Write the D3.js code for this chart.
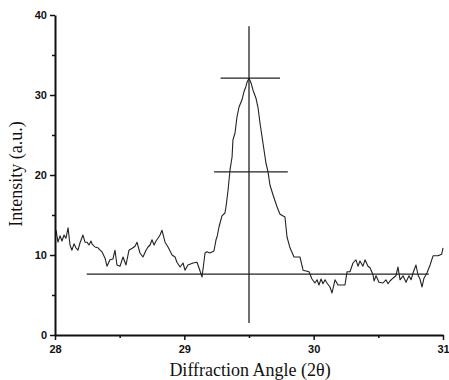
<!DOCTYPE html>
<html>
<head>
<meta charset="utf-8">
<script src="https://cdn.jsdelivr.net/npm/d3@7"></script>
<style>
  body { margin: 0; background: #fff; }
  .tick text { font-family: "Liberation Sans", Arial, sans-serif; font-weight: bold; font-size: 11px; fill: #111; }
  .axis-title { font-family: "Liberation Serif", "Times New Roman", serif; font-size: 18px; fill: #111; }
</style>
</head>
<body>
<div id="wrapper"></div>
<script>
// scan of the diffraction pattern
const angle = [
  28.008, 28.023, 28.039, 28.054, 28.070, 28.085, 28.101, 28.116, 28.131, 28.147,
  28.162, 28.178, 28.193, 28.216, 28.232, 28.247, 28.263, 28.278, 28.286, 28.309,
  28.332, 28.363, 28.387, 28.402, 28.425, 28.448, 28.464, 28.479, 28.503, 28.526,
  28.549, 28.572, 28.603, 28.619, 28.634, 28.657, 28.680, 28.704, 28.719, 28.735,
  28.750, 28.766, 28.781, 28.796, 28.812, 28.827, 28.851, 28.874, 28.905, 28.928,
  28.943, 28.967, 28.990, 29.005, 29.028, 29.067, 29.098, 29.113, 29.137, 29.160,
  29.175, 29.198, 29.229, 29.245, 29.253, 29.268, 29.276, 29.291, 29.314, 29.322,
  29.338, 29.353, 29.369, 29.376, 29.392, 29.407, 29.423, 29.446, 29.461, 29.477,
  29.485, 29.500, 29.516, 29.531, 29.554, 29.570, 29.585, 29.608, 29.631, 29.647,
  29.662, 29.686, 29.717, 29.740, 29.778, 29.794, 29.817, 29.848, 29.894, 29.918,
  29.964, 29.987, 30.010, 30.026, 30.041, 30.057, 30.072, 30.088, 30.103, 30.126,
  30.142, 30.165, 30.188, 30.242, 30.258, 30.281, 30.304, 30.327, 30.343, 30.358,
  30.381, 30.397, 30.420, 30.436, 30.459, 30.467, 30.482, 30.505, 30.536, 30.559,
  30.575, 30.590, 30.613, 30.636, 30.652, 30.668, 30.691, 30.714, 30.737, 30.753,
  30.768, 30.791, 30.807, 30.822, 30.838, 30.853, 30.876, 30.900, 30.923, 30.961,
  30.990, 31.000
]
const intensity = [
  13.1, 11.6, 12.4, 11.75, 12.5, 12.1, 13.4, 11.25, 10.6, 11.4,
  10.9, 10.6, 11.5, 12.5, 11.6, 11.6, 11.25, 11.75, 11.4, 11.0,
  10.9, 10.4, 9.6, 8.6, 9.4, 9.5, 10.6, 8.75, 8.6, 9.75,
  8.75, 10.6, 10.9, 11.1, 11.6, 10.25, 9.75, 10.6, 11.0, 11.25,
  11.9, 11.25, 11.75, 12.1, 12.5, 13.1, 11.6, 11.0, 10.0, 9.75,
  9.1, 8.5, 9.0, 8.1, 8.75, 9.0, 9.1, 8.4, 7.25, 10.25,
  10.4, 10.25, 10.5, 11.9, 12.25, 13.5, 14.0, 14.9, 15.25, 16.0,
  18.1, 20.6, 22.25, 24.4, 25.25, 27.25, 28.5, 29.4, 30.4, 31.1,
  31.6, 32.1, 31.5, 30.6, 29.6, 28.4, 26.5, 24.0, 21.5, 20.4,
  18.75, 17.5, 16.0, 15.1, 14.75, 12.25, 10.9, 9.75, 9.75, 8.1,
  7.9, 7.0, 6.5, 6.9, 6.25, 7.0, 6.4, 6.9, 6.5, 6.0,
  5.25, 6.9, 6.25, 6.25, 7.9, 7.9, 9.0, 9.4, 8.6, 9.25,
  8.6, 9.4, 8.6, 8.4, 7.5, 6.75, 7.4, 6.6, 6.5, 6.9,
  6.4, 6.75, 7.1, 7.4, 8.5, 6.9, 7.4, 6.6, 7.4, 6.9,
  7.75, 8.75, 7.5, 7.0, 6.0, 7.1, 7.75, 8.75, 9.9, 9.9,
  10.1, 10.9
]

// construction lines drawn on the scan: [x1, y1, x2, y2]
const guideLines = [
  [28.245, 7.6, 30.89, 7.6],     // background
  [29.28, 32.1, 29.74, 32.1],    // peak top
  [29.23, 20.4, 29.80, 20.4],    // half maximum
  [29.5, 1.5, 29.5, 38.6]        // peak position
]

const xTicks = [28, 29, 30, 31]
const xMinorTicks = [28.5, 29.5, 30.5]
const yTicks = [0, 10, 20, 30, 40]
const yMinorTicks = [5, 15, 25, 35]

const dataset = angle.map((a, i) => ({angle: a, intensity: intensity[i]}))

const dimensions = {
  width: 449,
  height: 380,
  margin: {top: 15, right: 6, bottom: 45, left: 55}
}
dimensions.boundedWidth = dimensions.width - dimensions.margin.left - dimensions.margin.right
dimensions.boundedHeight = dimensions.height - dimensions.margin.top - dimensions.margin.bottom

const wrapper = d3.select("#wrapper")
  .append("svg")
  .attr("width", dimensions.width)
  .attr("height", dimensions.height)

const bounds = wrapper.append("g")
  .attr("transform", `translate(${dimensions.margin.left},${dimensions.margin.top})`)

const xScale = d3.scaleLinear()
  .domain([28, 31])
  .range([0, 388])

const yScale = d3.scaleLinear()
  .domain([0, 40])
  .range([dimensions.boundedHeight, 0])

// guide lines
bounds.selectAll(".guide")
  .data(guideLines)
  .enter()
  .append("line")
  .attr("class", "guide")
  .attr("x1", d => xScale(d[0]))
  .attr("y1", d => yScale(d[1]))
  .attr("x2", d => xScale(d[2]))
  .attr("y2", d => yScale(d[3]))
  .attr("stroke", "#222")
  .attr("stroke-width", 1.3)

// pattern
const lineGenerator = d3.line()
  .x(d => xScale(d.angle))
  .y(d => yScale(d.intensity))

bounds.append("path")
  .datum(dataset)
  .attr("d", lineGenerator)
  .attr("fill", "none")
  .attr("stroke", "#222")
  .attr("stroke-width", 1.1)
  .attr("stroke-linejoin", "round")

// axes
const xAxis = bounds.append("g")
  .attr("transform", `translate(0,${dimensions.boundedHeight})`)
  .call(d3.axisBottom(xScale).tickValues(xTicks).tickFormat(d3.format("d")).tickSize(5).tickSizeOuter(0))
bounds.append("g")
  .attr("transform", `translate(0,${dimensions.boundedHeight})`)
  .call(d3.axisBottom(xScale).tickValues(xMinorTicks).tickFormat("").tickSize(3).tickSizeOuter(0))
  .select(".domain").remove()

const yAxis = bounds.append("g")
  .call(d3.axisLeft(yScale).tickValues(yTicks).tickSize(5).tickSizeOuter(0))
bounds.append("g")
  .call(d3.axisLeft(yScale).tickValues(yMinorTicks).tickFormat("").tickSize(3).tickSizeOuter(0))
  .select(".domain").remove()

bounds.selectAll(".domain").attr("stroke", "#111").attr("stroke-width", 2)
bounds.selectAll(".tick line").attr("stroke", "#111").attr("stroke-width", 1.5)
xAxis.selectAll(".tick text").attr("dy", "0.9em")
yAxis.selectAll(".tick text").attr("x", -8)

// axis titles
wrapper.append("text")
  .attr("class", "axis-title")
  .attr("x", 250)
  .attr("y", 376)
  .attr("text-anchor", "middle")
  .text("Diffraction Angle (2θ)")

wrapper.append("text")
  .attr("class", "axis-title")
  .attr("transform", "translate(22,174) rotate(-90)")
  .attr("text-anchor", "middle")
  .text("Intensity (a.u.)")
</script>
</body>
</html>
